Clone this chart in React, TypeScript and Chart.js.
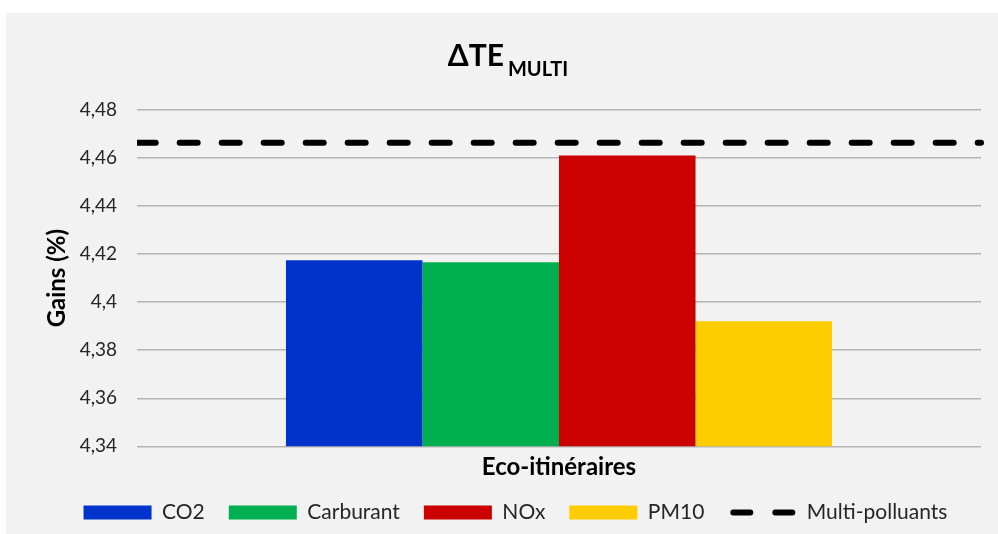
import React, { useEffect, useRef } from "react";
import { Chart, registerables } from "chart.js";

Chart.register(...registerables);

// ---- data ----
const categories = ["Eco-itinéraires"];
const seriesNames = ["CO2", "Carburant", "NOx", "PM10"];
const co2Values = [4.4174];
const carburantValues = [4.4166];
const noxValues = [4.4611];
const pm10Values = [4.3921];
const multiLabel = "Multi-polluants";
const multiValues = [4.4664];
const yTickValues = [4.34, 4.36, 4.38, 4.4, 4.42, 4.44, 4.46, 4.48];
const titleMain = "ΔTE";
const titleSub = "MULTI";
const yAxisTitle = "Gains (%)";

const barColors = ["#0033CC", "#00B050", "#CC0000", "#FFCC00"];
const FONT = "Lato";
const DASH = [18, 24];

const titlePlugin = {
  id: "subscriptTitle",
  afterDraw(chart: any) {
    const ctx = chart.ctx;
    ctx.save();
    ctx.fillStyle = "#000";
    ctx.textBaseline = "alphabetic";
    ctx.textAlign = "left";
    ctx.font = `bold 30px ${FONT}`;
    const w1 = ctx.measureText(titleMain).width;
    ctx.font = `bold 20px ${FONT}`;
    const w2 = ctx.measureText(titleSub).width;
    const gap = 4;
    const total = w1 + gap + w2;
    const cx = chart.width / 2 + 6;
    const x0 = cx - total / 2;
    ctx.font = `bold 30px ${FONT}`;
    ctx.fillText(titleMain, x0, 53);
    ctx.font = `bold 20px ${FONT}`;
    ctx.fillText(titleSub, x0 + w1 + gap, 63);
    ctx.restore();
  },
};

// Draws the horizontal "Multi-polluants" reference series across the plot,
// positioned through the chart's own y scale.
const refLinePlugin = {
  id: "refLine",
  afterDatasetsDraw(chart: any) {
    const { ctx, chartArea } = chart;
    const yScale = chart.scales.y;
    chart.data.datasets.forEach((ds: any, i: number) => {
      if (ds.type !== "line" || !chart.isDatasetVisible(i)) return;
      const v = ds.data[0];
      const y = yScale.getPixelForValue(v);
      ctx.save();
      ctx.beginPath();
      ctx.rect(chartArea.left, 0, chart.width - chartArea.left, chart.height);
      ctx.clip();
      ctx.beginPath();
      ctx.strokeStyle = ds.borderColor;
      ctx.lineWidth = ds.borderWidth;
      ctx.lineCap = "round";
      ctx.setLineDash(ds.borderDash);
      ctx.moveTo(chartArea.left + 0.7, y);
      ctx.lineTo(chartArea.right, y);
      ctx.stroke();
      ctx.restore();
    });
  },
};

export default function App() {
  const ref = useRef<HTMLCanvasElement | null>(null);

  useEffect(() => {
    if (!ref.current) return;
    const seriesData = [co2Values, carburantValues, noxValues, pm10Values];
    const barSets = seriesNames.map((name, i) => ({
      type: "bar" as const,
      label: name,
      data: seriesData[i],
      backgroundColor: barColors[i],
      borderWidth: 0,
      categoryPercentage: 0.647,
      barPercentage: 1,
    }));
    const lineSet: any = {
      type: "line",
      label: multiLabel,
      data: multiValues,
      borderColor: "#000",
      backgroundColor: "#000",
      borderWidth: 6,
      borderDash: DASH,
      pointRadius: 0,
      pointHoverRadius: 0,
      showLine: false,
      fill: false,
    };

    const chart = new Chart(ref.current, {
      type: "bar",
      data: {
        labels: categories,
        datasets: [...barSets, lineSet] as any,
      },
      options: {
        responsive: false,
        animation: false,
        devicePixelRatio: 1,
        layout: { padding: { top: 97, left: 44, right: 17, bottom: 1 } },
        plugins: {
          title: { display: false },
          tooltip: { enabled: false },
          legend: {
            position: "bottom",
            labels: {
              usePointStyle: true,
              pointStyleWidth: 68,
              boxHeight: 14,
              padding: 24,
              color: "#262626",
              font: { family: FONT, size: 21 },
              generateLabels: (c: any) =>
                c.data.datasets.map((ds: any, i: number) => {
                  const isLine = ds.type === "line";
                  return {
                    text: ds.label,
                    datasetIndex: i,
                    fillStyle: isLine ? "rgba(0,0,0,0)" : ds.backgroundColor,
                    strokeStyle: isLine ? "#000" : ds.backgroundColor,
                    lineWidth: isLine ? 6 : 0,
                    lineDash: isLine ? [17, 25] : [],
                    lineDashOffset: isLine ? -5 : 0,
                    lineCap: isLine ? "round" : "butt",
                    pointStyle: isLine ? "line" : "rect",
                    hidden: false,
                    fontColor: "#262626",
                  };
                }),
            },
          },
        },
        scales: {
          x: {
            type: "category",
            grid: { display: false, drawTicks: false },
            border: { display: false },
            ticks: {
              color: "#000",
              font: { family: FONT, size: 24, weight: "bold" },
              padding: 7,
            },
            afterFit: (s: any) => {
              s.height = 31.7;
            },
          },
          y: {
            type: "linear",
            min: 4.34,
            max: 4.48,
            afterBuildTicks: (s: any) => {
              s.ticks = yTickValues.map((v) => ({ value: v }));
            },
            ticks: {
              color: "#262626",
              font: { family: FONT, size: 19 },
              padding: 20,
              callback: (v: any) =>
                String(Math.round(Number(v) * 100) / 100).replace(".", ","),
            },
            grid: { color: "#b5b5b5", lineWidth: 1.5, drawTicks: false },
            border: { display: false },
            title: {
              display: true,
              text: yAxisTitle,
              color: "#000",
              font: { family: FONT, size: 24, weight: "bold" },
              padding: { top: -7, bottom: 0 },
            },
            afterFit: (s: any) => {
              s.width = 87;
            },
          },
        },
      } as any,
      plugins: [titlePlugin, refLinePlugin],
    });
    return () => chart.destroy();
  }, []);

  return (
    <div
      style={{
        position: "absolute",
        left: 0,
        top: 0,
        width: 998,
        height: 534,
        background: "#fff",
        overflow: "hidden",
      }}
    >
      <div style={{ position: "absolute", left: 6, top: 13 }}>
        <canvas
          ref={ref}
          width={992}
          height={521}
          style={{ display: "block", background: "#f2f2f2" }}
        />
      </div>
    </div>
  );
}
